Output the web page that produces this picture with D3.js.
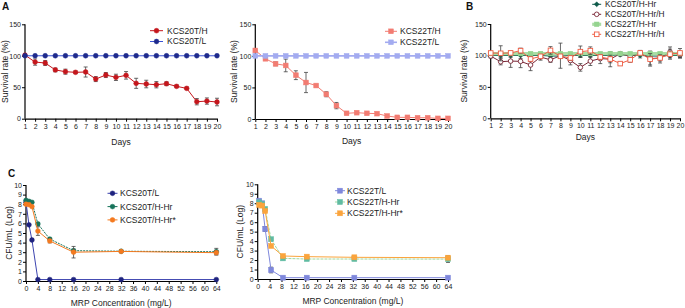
<!DOCTYPE html>
<html><head><meta charset="utf-8">
<script src="https://cdn.jsdelivr.net/npm/d3@7"></script>
<style>body{margin:0;background:#fff}svg{display:block;font-family:"Liberation Sans",Arial,sans-serif}</style>
</head><body><svg id="c" width="685" height="308"></svg>
<script>
// ---------- DATA ----------
const days = d3.range(1, 21);
const dayTicks = d3.range(1, 21);
const survTicks = [0, 50, 100, 150];
const cfuTicks = d3.range(0, 11);
const concTicks = d3.range(0, 65, 4);

const kcs20H = [101, 90, 88.5, 77.5, 74.7, 73.7, 74.2, 63, 69.4, 65.7, 68.9, 56.2, 55.1, 54, 55.6, 51.4, 48.2, 27, 28, 26.5];
const kcs20HErr = [2, 5, 4, 3, 4, 2, 8, 4, 4, 5, 6, 8, 6, 5, 3, 2, 2, 5, 5, 6];
const kcs20L = [100, 100, 100, 100, 100, 100, 100, 100, 100, 100, 100, 100, 100, 100, 100, 100, 100, 100, 100, 100];

const kcs22H = [108.6, 95.4, 87.4, 84.8, 69.4, 57.8, 53, 39.2, 21.2, 9, 10, 9, 8.5, 4.8, 2.6, 2.6, 2, 2, 1, 1];
const kcs22HErr = [1, 2, 3, 10, 7, 16, 1, 4, 5, 1, 1, 1, 1, 1, 1, 1, 1, 1, 1, 1];
const kcs22L = [100, 100, 100, 100, 100, 100, 100, 100, 100, 100, 100, 100, 100, 100, 100, 100, 100, 100, 100, 100];

const b20Hr = [100, 100, 100, 100, 100, 100, 99, 99, 100, 100, 100, 100, 100, 101, 100, 100, 99, 99, 100, 100];
const b20HrErr = [2, 3, 3, 5, 3, 5, 4, 3, 3, 3, 3, 3, 4, 2, 2, 4, 3, 3, 4, 4];
const b20HrH = [99, 90, 91, 90.6, 84.8, 97.5, 93, 99.6, 92, 81, 91, 95, 94, 102.8, 98.6, 104, 95, 96, 105.5, 101];
const b20HrHErr = [3, 5, 10, 10, 9, 5, 4, 20, 7, 6, 7, 8, 12, 3, 6, 4, 12, 8, 8, 5];
const b22Hr = [103, 103, 103, 103, 103, 103, 103, 103, 103, 103, 103, 103, 103, 103, 103, 103, 103, 103, 103, 103];
const b22HrH = [103.9, 103.4, 104, 107.6, 94.3, 98.6, 108, 98.6, 96, 106, 107.6, 97.5, 94.3, 87, 93, 104, 94, 96, 102, 104];
const b22HrHErr = [2, 12, 3, 4, 4, 3, 6, 3, 4, 9, 6, 4, 6, 3, 4, 3, 9, 5, 8, 7];

const conc20 = [0, 1, 2, 4, 8, 16, 32, 64];
const c20L = [8.2, 5.85, 4.27, 0.15, 0.15, 0.15, 0.15, 0.15];
const c20Hr = [8.4, 8.3, 8.2, 5.95, 4.37, 3.16, 3.1, 3.05];
const c20HrErr = [0.1, 0.1, 0.1, 0.15, 0.1, 0.15, 0.1, 0.35];
const c20HrS = [8.0, 7.95, 7.75, 5.2, 4.17, 3.0, 3.08, 2.95];
const c20HrSErr = [0.1, 0.1, 0.1, 0.45, 0.2, 0.6, 0.1, 0.2];

const conc22 = [0.5, 1.5, 2.5, 4.5, 8.5, 16.5, 32.5, 64];
const c22L = [8.27, 8.0, 5.28, 0.95, 0.14, 0.14, 0.14, 0.14];
const c22LErr = [0.1, 0.1, 0.25, 0.3, 0.05, 0.05, 0.05, 0.05];
const c22Hr = [8.1, 7.9, 7.4, 4.2, 2.18, 2.11, 2.11, 2.1];
const c22HrErr = [0.1, 0.1, 0.1, 0.1, 0.1, 0.1, 0.1, 0.35];
const c22HrS = [7.82, 7.75, 7.18, 3.49, 2.43, 2.36, 2.29, 2.25];

// ---------- DRAW ----------
const svg = d3.select("#c");
const FONT = "Liberation Sans, Arial, sans-serif";

function panel(o) {
  const x = d3.scaleLinear().domain(o.xd).range(o.xr);
  const y = d3.scaleLinear().domain(o.yd).range(o.yr);
  const g = svg.append("g");
  const ax = g.append("g").attr("transform", `translate(0,${o.yr[0]})`)
    .call(d3.axisBottom(x).tickValues(o.xt).tickSize(3).tickPadding(2).tickSizeOuter(0));
  const ay = g.append("g").attr("transform", `translate(${o.xr[0]},0)`)
    .call(d3.axisLeft(y).tickValues(o.yt).tickSize(3).tickPadding(1).tickSizeOuter(0));
  [ax, ay].forEach(a => {
    a.select(".domain").attr("stroke", "#000").attr("stroke-width", 1.2);
    a.selectAll("line").attr("stroke", "#000");
    a.selectAll("text").attr("font-size", o.tf || 7).attr("font-family", FONT).attr("fill", "#222");
  });
  ay.select(".domain").attr("d", `M0,${o.yr[0]}V${o.yr[1]}`);
  g.append("text").attr("x", (o.xr[0] + o.xr[1]) / 2).attr("y", o.xlY).attr("text-anchor", "middle")
    .attr("font-size", 8.5).attr("font-family", FONT).attr("fill", "#222").text(o.xl);
  g.append("text").attr("transform", `translate(${o.ylX},${(o.yr[0] + o.yr[1]) / 2}) rotate(-90)`)
    .attr("text-anchor", "middle").attr("font-size", 8.5).attr("font-family", FONT).attr("fill", "#222").text(o.yl);

  o.series.forEach(s => {
    const pts = s.y.map((v, i) => [s.x[i], v, s.e ? s.e[i] : 0]);
    // error bars
    if (s.e) {
      pts.forEach(p => {
        if (!p[2]) return;
        const cx = x(p[0]), y1 = y(p[1] - p[2]), y2 = y(p[1] + p[2]);
        g.append("path").attr("d", `M${cx},${y1}V${y2}M${cx - 2},${y1}H${cx + 2}M${cx - 2},${y2}H${cx + 2}`)
          .attr("stroke", s.ec || "#444").attr("stroke-width", 0.8).attr("fill", "none");
      });
    }
    g.append("path").datum(pts).attr("d", d3.line().x(p => x(p[0])).y(p => y(p[1])))
      .attr("fill", "none").attr("stroke", s.lc || s.c).attr("stroke-width", s.lw || 1)
      .attr("stroke-dasharray", s.dash || null).attr("opacity", s.lo || 1);
    pts.forEach(p => marker(g, s, x(p[0]), y(p[1])));
  });

  // legend
  o.series.forEach((s, i) => {
    const ly = o.leg.y + i * o.leg.dy;
    g.append("line").attr("x1", o.leg.x - o.leg.len / 2).attr("x2", o.leg.x + o.leg.len / 2)
      .attr("y1", ly).attr("y2", ly).attr("stroke", s.lc || s.c).attr("stroke-width", s.lw || 1)
      .attr("opacity", s.lo || 1);
    marker(g, s, o.leg.x, ly);
    g.append("text").attr("x", o.leg.tx).attr("y", ly).attr("dy", "0.35em")
      .attr("font-size", o.leg.fs || 8.5).attr("font-family", FONT).attr("fill", "#222").text(s.name);
  });
}

function marker(g, s, cx, cy) {
  const r = s.r || 2.4;
  const fill = s.open ? "#fff" : s.c;
  if (s.m === "circle") {
    g.append("circle").attr("cx", cx).attr("cy", cy).attr("r", r).attr("fill", fill)
      .attr("stroke", s.c).attr("stroke-width", s.open ? 0.9 : 0.5);
  } else if (s.m === "square") {
    g.append("rect").attr("x", cx - r).attr("y", cy - r).attr("width", 2 * r).attr("height", 2 * r)
      .attr("fill", fill).attr("stroke", s.c).attr("stroke-width", s.open ? 0.9 : 0.5);
  } else if (s.m === "diamond") {
    g.append("path").attr("d", `M${cx},${cy - r * 1.2}L${cx + r * 1.2},${cy}L${cx},${cy + r * 1.2}L${cx - r * 1.2},${cy}Z`)
      .attr("fill", fill).attr("stroke", s.c).attr("stroke-width", 0.5);
  }
}

// Panel A left
panel({
  xd: [1, 20], xr: [25, 217], yd: [0, 150], yr: [118.7, 24.3], xt: dayTicks, yt: survTicks,
  xl: "Days", xlY: 145, yl: "Survival rate (%)", ylX: 8,
  series: [
    { name: "KCS20T/H", x: days, y: kcs20H, e: kcs20HErr, c: "#c4161c", m: "circle", r: 2.4 },
    { name: "KCS20T/L", x: days, y: kcs20L, c: "#1e2a8c", lc: "#3a52d4", m: "circle", r: 2.4 }
  ],
  leg: { x: 156.5, len: 13, tx: 167, y: 30.7, dy: 10.8 }
});
// Panel A right
panel({
  xd: [1, 20], xr: [255.3, 448], yd: [0, 150], yr: [119, 24.3], xt: dayTicks, yt: survTicks,
  xl: "Days", xlY: 144, yl: "Survival rate (%)", ylX: 237,
  series: [
    { name: "KCS22T/L", x: days, y: kcs22L, c: "#a3abf0", lw: 1.6, m: "square", r: 2.4 },
    { name: "KCS22T/H", x: days, y: kcs22H, e: kcs22HErr, c: "#f27c72", m: "square", r: 2.4 }
  ].reverse(),
  leg: { x: 391, len: 12, tx: 400, y: 31.3, dy: 11 }
});
// Panel B
panel({
  xd: [1, 20], xr: [490.7, 680], yd: [0, 150], yr: [118.3, 24], xt: dayTicks, yt: survTicks,
  xl: "Days", xlY: 140, yl: "Survival rate (%)", ylX: 467,
  series: [
    { name: "KCS20T/H-Hr", x: days, y: b20Hr, e: b20HrErr, c: "#0e5a4a", m: "diamond", r: 2.1 },
    { name: "KCS20T/H-Hr/H", x: days, y: b20HrH, e: b20HrHErr, c: "#7a2636", m: "circle", open: true, r: 2.3 },
    { name: "KCS22T/H-Hr", x: days, y: b22Hr, c: "#95d48f", lw: 3.2, lo: 0.8, m: "square", r: 2.3 },
    { name: "KCS22T/H-Hr/H", x: days, y: b22HrH, e: b22HrHErr, c: "#ef5e45", m: "square", open: true, r: 2.3 }
  ],
  leg: { x: 596.7, len: 9, tx: 605, y: 4.3, dy: 10, fs: 8.3 }
});
// Panel C left
panel({
  xd: [0, 64], xr: [26, 216.3], yd: [0, 10], yr: [281, 185], xt: concTicks, yt: cfuTicks,
  xl: "MRP Concentration (mg/L)", xlY: 306, yl: "CFU/mL (Log)", ylX: 12,
  series: [
    { name: "KCS20T/L", x: conc20, y: c20L, c: "#1e237e", lc: "#3c44b0", m: "circle", r: 2.4 },
    { name: "KCS20T/H-Hr", x: conc20, y: c20Hr, e: c20HrErr, c: "#17735a", dash: "2,1", m: "circle", r: 2.4 },
    { name: "KCS20T/H-Hr*", x: conc20, y: c20HrS, e: c20HrSErr, c: "#f47a20", m: "circle", r: 2.4 }
  ],
  leg: { x: 112.5, len: 10, tx: 120, y: 193.3, dy: 13.3 }
});
// Panel C right
panel({
  xd: [0, 64], xr: [257.7, 448], yd: [0, 10], yr: [279, 184.3], xt: concTicks, yt: cfuTicks,
  xl: "MRP Concentration (mg/L)", xlY: 304, yl: "CFU/mL (Log)", ylX: 243,
  series: [
    { name: "KCS22T/L", x: conc22, y: c22L, e: c22LErr, c: "#7f88dc", m: "square", r: 2.5 },
    { name: "KCS22T/H-Hr", x: conc22, y: c22Hr, e: c22HrErr, c: "#5fbba2", lc: "#9fd8a0", dash: "3,1", m: "square", r: 2.5 },
    { name: "KCS22T/H-Hr*", x: conc22, y: c22HrS, c: "#fba43c", m: "square", r: 2.5 }
  ],
  leg: { x: 340, len: 10, tx: 347, y: 190.7, dy: 11.3 }
});

// panel letters
[["A", 2, 10], ["B", 466, 10], ["C", 8, 177]].forEach(([t, x, y]) =>
  svg.append("text").attr("x", x).attr("y", y).attr("font-size", 10).attr("font-weight", "bold")
    .attr("font-family", FONT).attr("fill", "#111").text(t));
</script></body></html>
